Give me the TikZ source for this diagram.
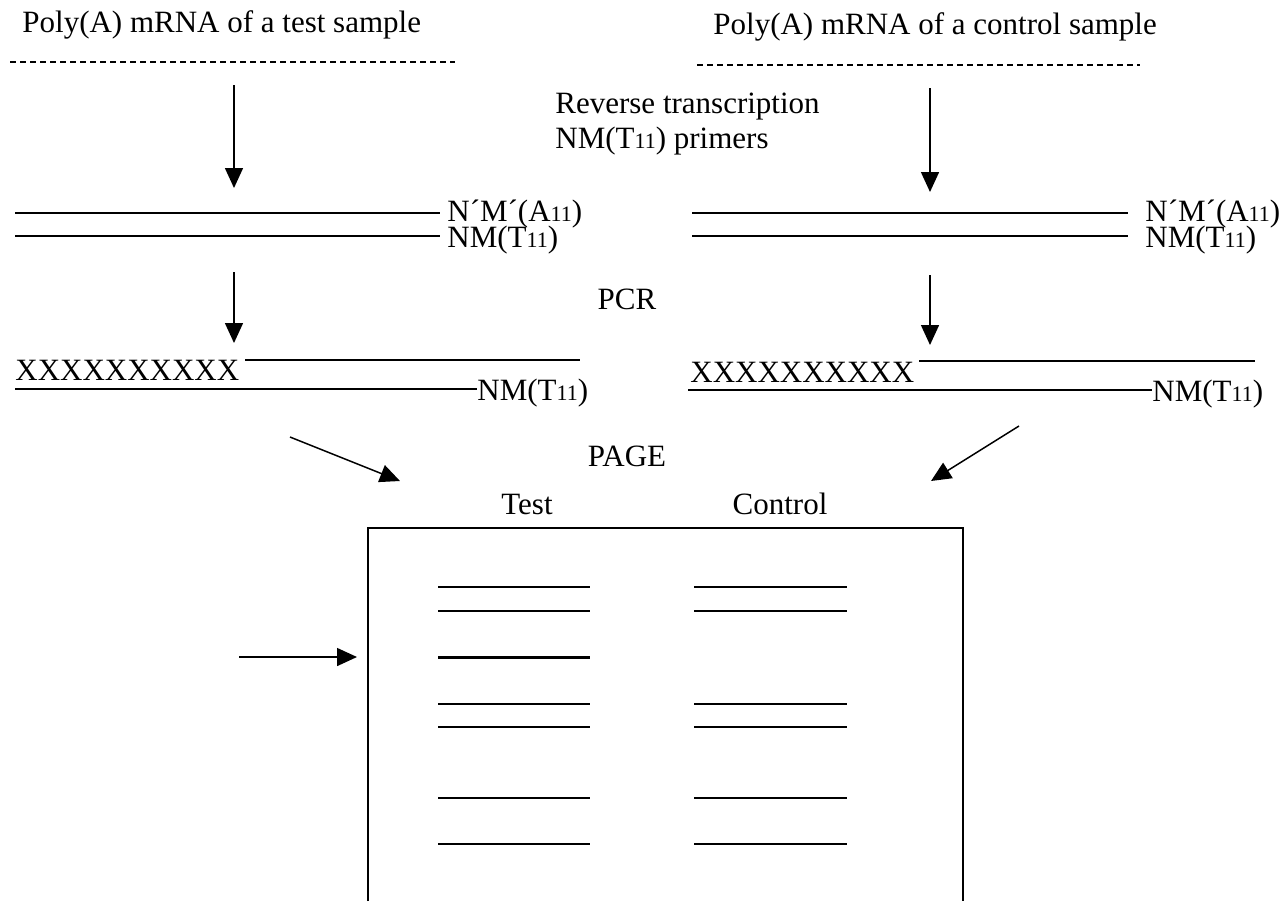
\documentclass[tikz,border=0pt]{standalone}
\usepackage{fontspec}
\setmainfont{Liberation Serif}
\usetikzlibrary{positioning, arrows.meta}
\newcommand{\nsub}[1]{{\fontsize{11}{11}\selectfont #1}}

\begin{document}
\begin{tikzpicture}[x=0.5pt,y=-0.5pt]
	% 样式
	\tikzset{
		txt/.style={inner sep=0pt, font=\fontsize{15.5}{18}\selectfont},
		flow/.style={line width=0.75pt, -{Triangle[length=10pt,width=9pt]}},
		strand/.style={line width=0.6pt},
		band/.style={line width=0.75pt}
	}
	\useasboundingbox (0,0) rectangle (1285,901);
	
	% 标题与虚线
	\node[txt, anchor=base west] (titleTest) at (22,32) {Poly(A) mRNA of a test sample};
	\node[txt, anchor=base west] (titleCtrl) at (713,34) {Poly(A) mRNA of a control sample};
	\draw[strand, dash pattern=on 3pt off 2pt] (10,62) -- (455,62);
	\draw[strand, dash pattern=on 3pt off 2pt] (697,65) -- (1140,65);
	
	% 反转录
	\node[txt, anchor=base west] (rt) at (555,113) {Reverse transcription};
	\node[txt, anchor=base west] (primer) at (555,148) {NM(T\nsub{11}) primers};
	\coordinate (arrA1) at (234,85);  \coordinate (arrA2) at (234,188);
	\coordinate (arrB1) at (930,88);  \coordinate (arrB2) at (930,192);
	\draw[flow] (arrA1) -- (arrA2);
	\draw[flow] (arrB1) -- (arrB2);
	
	% cDNA 双链
	\node[txt, anchor=base west] (testA) at (447,221) {N´M´(A\nsub{11})};
	\node[txt, anchor=base west] (testT) at (447,247) {NM(T\nsub{11})};
	\node[txt, anchor=base west] (ctrlA) at (1145,221) {N´M´(A\nsub{11})};
	\node[txt, anchor=base west] (ctrlT) at (1145,247) {NM(T\nsub{11})};
	\draw[strand] (15,213) -- (440,213);
	\draw[strand] (15,236) -- (440,236);
	\draw[strand] (692,213) -- (1128,213);
	\draw[strand] (692,236) -- (1128,236);
	
	% PCR
	\node[txt, anchor=base] (pcr) at (627,309) {PCR};
	\coordinate (arrC1) at (234,272); \coordinate (arrC2) at (234,343);
	\coordinate (arrD1) at (930,275); \coordinate (arrD2) at (930,345);
	\draw[flow] (arrC1) -- (arrC2);
	\draw[flow] (arrD1) -- (arrD2);
	
	\node[txt, anchor=base west] (xTest) at (15,380) {XXXXXXXXXX};
	\node[txt, anchor=base west] (xCtrl) at (690,382) {XXXXXXXXXX};
	\node[txt, anchor=base west] (pcrT1) at (477,400) {NM(T\nsub{11})};
	\node[txt, anchor=base west] (pcrT2) at (1152,401) {NM(T\nsub{11})};
	\draw[strand] (245,360) -- (580,360);
	\draw[strand] (15,389) -- (pcrT1.west |- 0,389);
	\draw[strand] (919,361) -- (1255,361);
	\draw[strand] (688,390) -- (pcrT2.west |- 0,390);
	
	% PAGE
	\node[txt, anchor=base] (page) at (627,466) {PAGE};
	\coordinate (arrE1) at (290,437); \coordinate (arrE2) at (400,481);
	\coordinate (arrF1) at (1019,426); \coordinate (arrF2) at (931,481);
	\draw[flow] (arrE1) -- (arrE2);
	\draw[flow] (arrF1) -- (arrF2);
	
	\node[txt, anchor=base] (laneTest) at (527,514) {Test};
	\node[txt, anchor=base] (laneCtrl) at (780,514) {Control};
	
	% 凝胶
	\draw[strand] (368,901) -- (368,528) -- (963,528) -- (963,901);
	\foreach \y in {587,611,704,727,798,844} {
		\draw[band] (438,\y) -- (590,\y);
		\draw[band] (694,\y) -- (847,\y);
	}
	\draw[line width=1.5pt] (438,657) -- (590,657);
	\coordinate (arrG1) at (239,657); \coordinate (arrG2) at (357,657);
	\draw[flow] (arrG1) -- (arrG2);
\end{tikzpicture}
\end{document}
